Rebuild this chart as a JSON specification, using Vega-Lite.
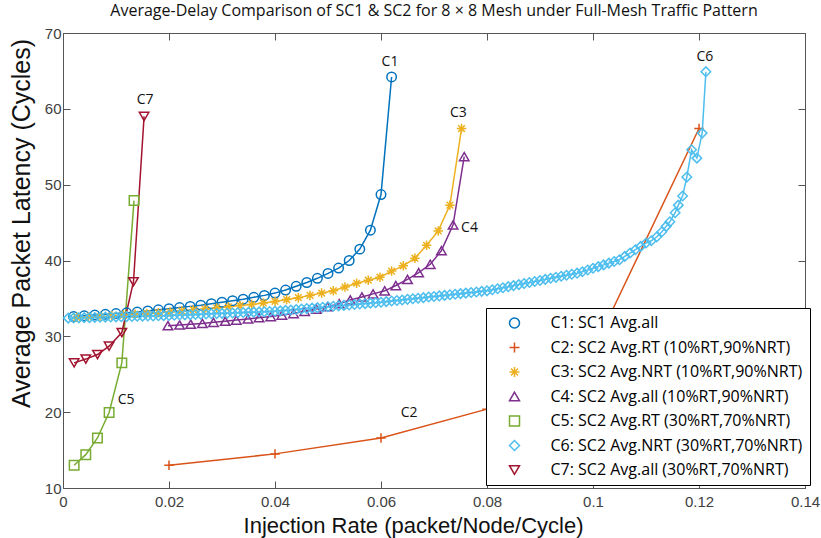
{
  "$schema": "https://vega.github.io/schema/vega-lite/v6.json",
  "width": 742,
  "height": 455,
  "autosize": {"type": "none"},
  "padding": {"left": 63, "top": 33, "right": 16, "bottom": 50},
  "background": "white",
  "title": {"text": "Average-Delay Comparison of SC1 & SC2 for 8 × 8 Mesh under Full-Mesh Traffic Pattern", "font": "Open Sans", "fontSize": 16, "fontWeight": "normal", "color": "#111111", "anchor": "middle", "offset": 7},
  "config": {
    "view": {"stroke": null},
    "font": "Liberation Sans"
  },
  "datasets": {
    "series": [
      {"c": "C1", "name": "C1: SC1 Avg.all"},
      {"c": "C2", "name": "C2: SC2 Avg.RT (10%RT,90%NRT)"},
      {"c": "C3", "name": "C3: SC2 Avg.NRT (10%RT,90%NRT)"},
      {"c": "C4", "name": "C4: SC2 Avg.all (10%RT,90%NRT)"},
      {"c": "C5", "name": "C5: SC2 Avg.RT (30%RT,70%NRT)"},
      {"c": "C6", "name": "C6: SC2 Avg.NRT (30%RT,70%NRT)"},
      {"c": "C7", "name": "C7: SC2 Avg.all (30%RT,70%NRT)"}
    ],
    "labels": [
      {"t": "C1", "x": 0.0617, "y": 66.2},
      {"t": "C2", "x": 0.0653, "y": 19.85},
      {"t": "C3", "x": 0.0746, "y": 59.4},
      {"t": "C4", "x": 0.0767, "y": 44.25},
      {"t": "C5", "x": 0.0119, "y": 21.6},
      {"t": "C6", "x": 0.1211, "y": 66.9},
      {"t": "C7", "x": 0.0155, "y": 61.1}
    ],
    "pts": [
      {"c":"C1","x":0.002,"y":32.6},{"c":"C1","x":0.004,"y":32.7},{"c":"C1","x":0.006,"y":32.8},{"c":"C1","x":0.008,"y":32.9},{"c":"C1","x":0.010,"y":33.0},{"c":"C1","x":0.012,"y":33.1},{"c":"C1","x":0.014,"y":33.2},{"c":"C1","x":0.016,"y":33.35},{"c":"C1","x":0.018,"y":33.5},{"c":"C1","x":0.020,"y":33.65},{"c":"C1","x":0.022,"y":33.8},{"c":"C1","x":0.024,"y":33.95},{"c":"C1","x":0.026,"y":34.1},{"c":"C1","x":0.028,"y":34.3},{"c":"C1","x":0.030,"y":34.5},{"c":"C1","x":0.032,"y":34.7},{"c":"C1","x":0.034,"y":34.9},{"c":"C1","x":0.036,"y":35.15},{"c":"C1","x":0.038,"y":35.4},{"c":"C1","x":0.040,"y":35.7},{"c":"C1","x":0.042,"y":36.1},{"c":"C1","x":0.044,"y":36.6},{"c":"C1","x":0.046,"y":37.1},{"c":"C1","x":0.048,"y":37.65},{"c":"C1","x":0.050,"y":38.3},{"c":"C1","x":0.052,"y":39.0},{"c":"C1","x":0.054,"y":40.0},{"c":"C1","x":0.056,"y":41.5},{"c":"C1","x":0.058,"y":44.0},{"c":"C1","x":0.060,"y":48.7},{"c":"C1","x":0.062,"y":64.2},
      {"c":"C2","x":0.02,"y":13.0},{"c":"C2","x":0.04,"y":14.5},{"c":"C2","x":0.06,"y":16.6},{"c":"C2","x":0.08,"y":20.4},{"c":"C2","x":0.10,"y":28.1},{"c":"C2","x":0.12,"y":57.4},
      {"c":"C3","x":0.0026,"y":32.5},{"c":"C3","x":0.0048,"y":32.55},{"c":"C3","x":0.0070,"y":32.6},{"c":"C3","x":0.0092,"y":32.7},{"c":"C3","x":0.0114,"y":32.8},{"c":"C3","x":0.0136,"y":32.9},{"c":"C3","x":0.0158,"y":33.0},{"c":"C3","x":0.0180,"y":33.1},{"c":"C3","x":0.0202,"y":33.2},{"c":"C3","x":0.0224,"y":33.35},{"c":"C3","x":0.0246,"y":33.5},{"c":"C3","x":0.0268,"y":33.6},{"c":"C3","x":0.0290,"y":33.75},{"c":"C3","x":0.0312,"y":33.9},{"c":"C3","x":0.0334,"y":34.05},{"c":"C3","x":0.0356,"y":34.2},{"c":"C3","x":0.0378,"y":34.4},{"c":"C3","x":0.0400,"y":34.6},{"c":"C3","x":0.0422,"y":34.85},{"c":"C3","x":0.0444,"y":35.1},{"c":"C3","x":0.0466,"y":35.4},{"c":"C3","x":0.0488,"y":35.7},{"c":"C3","x":0.0510,"y":36.0},{"c":"C3","x":0.0532,"y":36.5},{"c":"C3","x":0.0554,"y":37.0},{"c":"C3","x":0.0576,"y":37.4},{"c":"C3","x":0.0598,"y":37.8},{"c":"C3","x":0.0620,"y":38.6},{"c":"C3","x":0.0642,"y":39.3},{"c":"C3","x":0.0664,"y":40.3},{"c":"C3","x":0.0686,"y":42.0},{"c":"C3","x":0.0708,"y":43.9},{"c":"C3","x":0.0730,"y":47.3},{"c":"C3","x":0.0752,"y":57.4},
      {"c":"C4","x":0.0198,"y":31.4},{"c":"C4","x":0.0220,"y":31.5},{"c":"C4","x":0.0241,"y":31.6},{"c":"C4","x":0.0263,"y":31.7},{"c":"C4","x":0.0284,"y":31.85},{"c":"C4","x":0.0306,"y":32.0},{"c":"C4","x":0.0327,"y":32.15},{"c":"C4","x":0.0349,"y":32.3},{"c":"C4","x":0.0370,"y":32.45},{"c":"C4","x":0.0392,"y":32.6},{"c":"C4","x":0.0413,"y":32.8},{"c":"C4","x":0.0435,"y":33.0},{"c":"C4","x":0.0456,"y":33.3},{"c":"C4","x":0.0478,"y":33.6},{"c":"C4","x":0.0499,"y":33.9},{"c":"C4","x":0.0521,"y":34.3},{"c":"C4","x":0.0542,"y":34.8},{"c":"C4","x":0.0564,"y":35.2},{"c":"C4","x":0.0585,"y":35.6},{"c":"C4","x":0.0607,"y":36.0},{"c":"C4","x":0.0628,"y":36.7},{"c":"C4","x":0.0650,"y":37.5},{"c":"C4","x":0.0671,"y":38.4},{"c":"C4","x":0.0693,"y":39.5},{"c":"C4","x":0.0714,"y":41.3},{"c":"C4","x":0.0736,"y":44.7},{"c":"C4","x":0.0757,"y":53.7},
      {"c":"C5","x":0.0021,"y":13.0},{"c":"C5","x":0.0043,"y":14.4},{"c":"C5","x":0.0065,"y":16.6},{"c":"C5","x":0.0087,"y":19.95},{"c":"C5","x":0.0111,"y":26.5},{"c":"C5","x":0.0134,"y":47.9},
      {"c":"C6","x":0.001,"y":32.40},{"c":"C6","x":0.002,"y":32.42},{"c":"C6","x":0.003,"y":32.44},{"c":"C6","x":0.004,"y":32.46},{"c":"C6","x":0.005,"y":32.47},{"c":"C6","x":0.006,"y":32.49},{"c":"C6","x":0.007,"y":32.51},{"c":"C6","x":0.008,"y":32.53},{"c":"C6","x":0.009,"y":32.55},{"c":"C6","x":0.010,"y":32.57},{"c":"C6","x":0.011,"y":32.58},{"c":"C6","x":0.012,"y":32.60},{"c":"C6","x":0.013,"y":32.62},{"c":"C6","x":0.014,"y":32.64},{"c":"C6","x":0.015,"y":32.66},{"c":"C6","x":0.016,"y":32.68},{"c":"C6","x":0.017,"y":32.69},{"c":"C6","x":0.018,"y":32.71},{"c":"C6","x":0.019,"y":32.73},{"c":"C6","x":0.020,"y":32.75},{"c":"C6","x":0.021,"y":32.78},{"c":"C6","x":0.022,"y":32.81},{"c":"C6","x":0.023,"y":32.83},{"c":"C6","x":0.024,"y":32.86},{"c":"C6","x":0.025,"y":32.89},{"c":"C6","x":0.026,"y":32.92},{"c":"C6","x":0.027,"y":32.94},{"c":"C6","x":0.028,"y":32.97},{"c":"C6","x":0.029,"y":33.00},{"c":"C6","x":0.030,"y":33.03},{"c":"C6","x":0.031,"y":33.05},{"c":"C6","x":0.032,"y":33.08},{"c":"C6","x":0.033,"y":33.11},{"c":"C6","x":0.034,"y":33.14},{"c":"C6","x":0.035,"y":33.16},{"c":"C6","x":0.036,"y":33.19},{"c":"C6","x":0.037,"y":33.22},{"c":"C6","x":0.038,"y":33.25},{"c":"C6","x":0.039,"y":33.27},{"c":"C6","x":0.040,"y":33.30},{"c":"C6","x":0.041,"y":33.36},{"c":"C6","x":0.042,"y":33.42},{"c":"C6","x":0.043,"y":33.48},{"c":"C6","x":0.044,"y":33.54},{"c":"C6","x":0.045,"y":33.60},{"c":"C6","x":0.046,"y":33.66},{"c":"C6","x":0.047,"y":33.72},{"c":"C6","x":0.048,"y":33.78},{"c":"C6","x":0.049,"y":33.84},{"c":"C6","x":0.050,"y":33.90},{"c":"C6","x":0.051,"y":33.96},{"c":"C6","x":0.052,"y":34.02},{"c":"C6","x":0.053,"y":34.08},{"c":"C6","x":0.054,"y":34.14},{"c":"C6","x":0.055,"y":34.20},{"c":"C6","x":0.056,"y":34.26},{"c":"C6","x":0.057,"y":34.32},{"c":"C6","x":0.058,"y":34.38},{"c":"C6","x":0.059,"y":34.44},{"c":"C6","x":0.060,"y":34.50},{"c":"C6","x":0.061,"y":34.58},{"c":"C6","x":0.062,"y":34.65},{"c":"C6","x":0.063,"y":34.73},{"c":"C6","x":0.064,"y":34.80},{"c":"C6","x":0.065,"y":34.88},{"c":"C6","x":0.066,"y":34.95},{"c":"C6","x":0.067,"y":35.03},{"c":"C6","x":0.068,"y":35.10},{"c":"C6","x":0.069,"y":35.18},{"c":"C6","x":0.070,"y":35.25},{"c":"C6","x":0.071,"y":35.33},{"c":"C6","x":0.072,"y":35.40},{"c":"C6","x":0.073,"y":35.48},{"c":"C6","x":0.074,"y":35.55},{"c":"C6","x":0.075,"y":35.63},{"c":"C6","x":0.076,"y":35.70},{"c":"C6","x":0.077,"y":35.78},{"c":"C6","x":0.078,"y":35.85},{"c":"C6","x":0.079,"y":35.93},{"c":"C6","x":0.080,"y":36.00},{"c":"C6","x":0.081,"y":36.14},{"c":"C6","x":0.082,"y":36.27},{"c":"C6","x":0.083,"y":36.41},{"c":"C6","x":0.084,"y":36.55},{"c":"C6","x":0.085,"y":36.69},{"c":"C6","x":0.086,"y":36.82},{"c":"C6","x":0.087,"y":36.96},{"c":"C6","x":0.088,"y":37.10},{"c":"C6","x":0.089,"y":37.23},{"c":"C6","x":0.090,"y":37.37},{"c":"C6","x":0.091,"y":37.51},{"c":"C6","x":0.092,"y":37.65},{"c":"C6","x":0.093,"y":37.78},{"c":"C6","x":0.094,"y":37.92},{"c":"C6","x":0.095,"y":38.06},{"c":"C6","x":0.096,"y":38.19},{"c":"C6","x":0.097,"y":38.33},{"c":"C6","x":0.098,"y":38.51},{"c":"C6","x":0.099,"y":38.74},{"c":"C6","x":0.100,"y":38.97},{"c":"C6","x":0.101,"y":39.19},{"c":"C6","x":0.102,"y":39.42},{"c":"C6","x":0.103,"y":39.65},{"c":"C6","x":0.104,"y":39.87},{"c":"C6","x":0.105,"y":40.10},{"c":"C6","x":0.106,"y":40.54},{"c":"C6","x":0.107,"y":40.98},{"c":"C6","x":0.108,"y":41.42},{"c":"C6","x":0.109,"y":41.86},{"c":"C6","x":0.110,"y":42.30},{"c":"C6","x":0.111,"y":42.60},{"c":"C6","x":0.112,"y":43.10},{"c":"C6","x":0.113,"y":43.80},{"c":"C6","x":0.1138,"y":44.5},{"c":"C6","x":0.1145,"y":45.1},{"c":"C6","x":0.1155,"y":46.3},{"c":"C6","x":0.1161,"y":47.3},{"c":"C6","x":0.1169,"y":48.5},{"c":"C6","x":0.1177,"y":51.0},{"c":"C6","x":0.1186,"y":54.6},{"c":"C6","x":0.1196,"y":53.5},{"c":"C6","x":0.1206,"y":56.8},{"c":"C6","x":0.1213,"y":64.9},
      {"c":"C7","x":0.0021,"y":26.5},{"c":"C7","x":0.0043,"y":27.0},{"c":"C7","x":0.0065,"y":27.6},{"c":"C7","x":0.0087,"y":28.7},{"c":"C7","x":0.0111,"y":30.5},{"c":"C7","x":0.0133,"y":37.2},{"c":"C7","x":0.0153,"y":59.0}
    ]
  },
  "layer": [
    {
      "data": {"name": "pts"},
      "mark": {"type": "line", "strokeWidth": 1.5},
      "encoding": {
        "x": {"field": "x", "type": "quantitative", "scale": {"domain": [0, 0.14], "nice": false, "zero": false},
          "axis": {"orient": "bottom", "values": [0, 0.02, 0.04, 0.06, 0.08, 0.1, 0.12, 0.14], "format": "~g", "grid": false,
            "tickSize": -7, "labelPadding": 13, "labelFlush": false, "labelOverlap": false,
            "domainColor": "#555555", "tickColor": "#555555", "labelColor": "#404040", "labelFont": "Liberation Sans", "labelFontSize": 15,
            "title": "Injection Rate (packet/Node/Cycle)", "titleFont": "Liberation Sans", "titleFontSize": 22, "titleFontWeight": "normal", "titleColor": "#111111",
            "titleX": 350, "titleY": 44, "titleBaseline": "alphabetic", "titleAlign": "center"}},
        "y": {"field": "y", "type": "quantitative", "scale": {"domain": [10, 70], "nice": false, "zero": false},
          "axis": {"orient": "left", "values": [10, 20, 30, 40, 50, 60, 70], "grid": false,
            "tickSize": -7, "labelPadding": 9, "labelFlush": false, "labelOverlap": false,
            "domainColor": "#555555", "tickColor": "#555555", "labelColor": "#404040", "labelFont": "Liberation Sans", "labelFontSize": 15,
            "title": "Average Packet Latency (Cycles)", "titleFont": "Liberation Sans", "titleFontSize": 25, "titleFontWeight": "normal", "titleColor": "#111111",
            "titleX": -34, "titleY": 190, "titleBaseline": "alphabetic", "titleAlign": "center", "titleAngle": -90}},
        "stroke": {"field": "c", "type": "nominal", "legend": null,
          "scale": {"domain": ["C1", "C2", "C3", "C4", "C5", "C6", "C7"],
            "range": ["#0072BD", "#D95319", "#EDB120", "#7E2F8E", "#77AC30", "#4DBEEE", "#A2142F"]}}
      }
    },
    {
      "data": {"name": "pts"},
      "transform": [{"lookup": "c", "from": {"data": {"name": "series"}, "key": "c", "fields": ["name"]}}],
      "mark": {"type": "point", "filled": false, "strokeWidth": 1.5, "size": 90, "opacity": 1},
      "encoding": {
        "x": {"field": "x", "type": "quantitative",
          "axis": {"orient": "top", "values": [0, 0.02, 0.04, 0.06, 0.08, 0.1, 0.12, 0.14], "labels": false, "title": null, "grid": false, "tickSize": -7, "domainColor": "#555555", "tickColor": "#555555"}},
        "y": {"field": "y", "type": "quantitative",
          "axis": {"orient": "right", "values": [10, 20, 30, 40, 50, 60, 70], "labels": false, "title": null, "grid": false, "tickSize": -7, "domainColor": "#555555", "tickColor": "#555555"}},
        "color": {"field": "name", "type": "nominal",
          "scale": {"domain": ["C1: SC1 Avg.all", "C2: SC2 Avg.RT (10%RT,90%NRT)", "C3: SC2 Avg.NRT (10%RT,90%NRT)", "C4: SC2 Avg.all (10%RT,90%NRT)", "C5: SC2 Avg.RT (30%RT,70%NRT)", "C6: SC2 Avg.NRT (30%RT,70%NRT)", "C7: SC2 Avg.all (30%RT,70%NRT)"],
            "range": ["#0072BD", "#D95319", "#EDB120", "#7E2F8E", "#77AC30", "#4DBEEE", "#A2142F"]},
          "legend": {"title": null, "orient": "none", "legendX": 423, "legendY": 275,
            "strokeColor": "black", "fillColor": "white",
            "padding": 7, "labelFont": "Open Sans", "labelFontSize": 16, "labelColor": "black",
            "symbolSize": 100, "symbolStrokeWidth": 1.5, "rowPadding": 8.5,
            "symbolOffset": 13.5, "labelOffset": 28, "labelLimit": 400}},
        "shape": {"field": "name", "type": "nominal",
          "scale": {"domain": ["C1: SC1 Avg.all", "C2: SC2 Avg.RT (10%RT,90%NRT)", "C3: SC2 Avg.NRT (10%RT,90%NRT)", "C4: SC2 Avg.all (10%RT,90%NRT)", "C5: SC2 Avg.RT (30%RT,70%NRT)", "C6: SC2 Avg.NRT (30%RT,70%NRT)", "C7: SC2 Avg.all (30%RT,70%NRT)"],
            "range": ["circle", "M-1,0H1M0,-1V1", "M-1,0H1M0,-1V1M-0.7,-0.7L0.7,0.7M-0.7,0.7L0.7,-0.7", "triangle-up", "square", "diamond", "triangle-down"]},
          "legend": {"title": null, "orient": "none", "legendX": 423, "legendY": 275,
            "strokeColor": "black", "fillColor": "white",
            "padding": 7, "labelFont": "Open Sans", "labelFontSize": 16, "labelColor": "black",
            "symbolSize": 100, "symbolStrokeWidth": 1.5, "rowPadding": 8.5,
            "symbolOffset": 13.5, "labelOffset": 28, "labelLimit": 400}}
      }
    },
    {
      "data": {"name": "labels"},
      "mark": {"type": "text", "font": "Open Sans", "fontSize": 14, "color": "#111111", "align": "center", "baseline": "middle"},
      "encoding": {
        "x": {"field": "x", "type": "quantitative", "axis": null},
        "y": {"field": "y", "type": "quantitative", "axis": null},
        "text": {"field": "t", "type": "nominal"}
      }
    }
  ],
  "resolve": {"axis": {"x": "independent", "y": "independent"}}
}
